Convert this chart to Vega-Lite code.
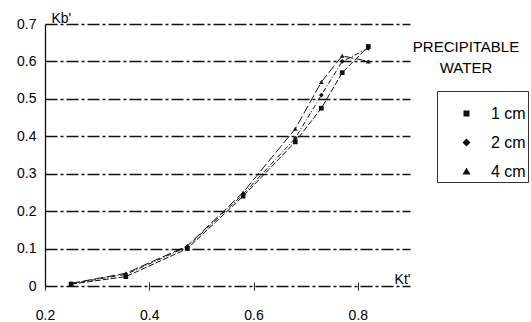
{
  "$schema": "https://vega.github.io/schema/vega-lite/v6.json",
  "width": 365,
  "height": 262,
  "autosize": {"type": "none"},
  "padding": {"left": 45, "top": 24, "right": 121, "bottom": 36},
  "background": "white",
  "config": {"view": {"stroke": null}, "font": "Liberation Sans"},
  "title": {
    "text": ["PRECIPITABLE", "WATER"],
    "anchor": "start",
    "frame": "group",
    "align": "center",
    "baseline": "top",
    "dx": 421,
    "dy": 65,
    "offset": 0,
    "fontSize": 15,
    "fontWeight": "normal",
    "color": "black",
    "lineHeight": 21
  },
  "data": {
    "values": [
      {"pw": "1 cm", "kt": 0.25, "kb": 0.005},
      {"pw": "1 cm", "kt": 0.355, "kb": 0.025},
      {"pw": "1 cm", "kt": 0.473, "kb": 0.1},
      {"pw": "1 cm", "kt": 0.58, "kb": 0.24},
      {"pw": "1 cm", "kt": 0.68, "kb": 0.385},
      {"pw": "1 cm", "kt": 0.73, "kb": 0.475},
      {"pw": "1 cm", "kt": 0.77, "kb": 0.57},
      {"pw": "1 cm", "kt": 0.82, "kb": 0.64},
      {"pw": "2 cm", "kt": 0.25, "kb": 0.006},
      {"pw": "2 cm", "kt": 0.355, "kb": 0.031},
      {"pw": "2 cm", "kt": 0.473, "kb": 0.105},
      {"pw": "2 cm", "kt": 0.58, "kb": 0.245},
      {"pw": "2 cm", "kt": 0.68, "kb": 0.395},
      {"pw": "2 cm", "kt": 0.73, "kb": 0.51},
      {"pw": "2 cm", "kt": 0.77, "kb": 0.6},
      {"pw": "2 cm", "kt": 0.82, "kb": 0.635},
      {"pw": "4 cm", "kt": 0.25, "kb": 0.007},
      {"pw": "4 cm", "kt": 0.355, "kb": 0.034},
      {"pw": "4 cm", "kt": 0.473, "kb": 0.107},
      {"pw": "4 cm", "kt": 0.58, "kb": 0.25},
      {"pw": "4 cm", "kt": 0.68, "kb": 0.42},
      {"pw": "4 cm", "kt": 0.73, "kb": 0.545},
      {"pw": "4 cm", "kt": 0.77, "kb": 0.615},
      {"pw": "4 cm", "kt": 0.82, "kb": 0.6}
    ]
  },
  "encoding": {
    "x": {
      "field": "kt",
      "type": "quantitative",
      "scale": {"domain": [0.2, 0.9], "nice": false, "zero": false},
      "axis": {
        "values": [0.2, 0.4, 0.6, 0.8],
        "format": ".1f",
        "grid": false,
        "domain": false,
        "ticks": true,
        "tickColor": "#222",
        "tickSize": 8,
        "offset": -4,
        "labelPadding": 18,
        "labelFontSize": 14,
        "labelColor": "black",
        "labelFlush": false,
        "labelOverlap": false,
        "labelBound": false,
        "title": "Kt'",
        "titleX": 365,
        "titleY": 1,
        "titleAlign": "right",
        "titleBaseline": "alphabetic",
        "titleFontWeight": "normal",
        "titleFontSize": 14,
        "titleColor": "black"
      }
    },
    "y": {
      "field": "kb",
      "type": "quantitative",
      "scale": {"domain": [0, 0.7], "nice": false},
      "axis": {
        "values": [0, 0.1, 0.2, 0.3, 0.4, 0.5, 0.6, 0.7],
        "format": ".1~f",
        "grid": true,
        "gridDash": [12, 3, 3, 3],
        "gridColor": "#111",
        "gridWidth": 1.3,
        "gridOpacity": 1,
        "domain": true,
        "domainColor": "#111",
        "domainWidth": 1.3,
        "ticks": false,
        "labelPadding": 9,
        "labelFontSize": 14,
        "labelColor": "black",
        "title": "Kb'",
        "titleAngle": 0,
        "titleX": 6,
        "titleY": -2,
        "titleAlign": "left",
        "titleBaseline": "alphabetic",
        "titleFontWeight": "normal",
        "titleFontSize": 14,
        "titleColor": "black"
      }
    }
  },
  "resolve": {"scale": {"shape": "independent"}, "legend": {"shape": "independent"}},
  "layer": [
    {
      "transform": [{"filter": "datum.pw === '1 cm'"}],
      "mark": {"type": "line", "color": "#111", "strokeWidth": 1, "strokeDash": [6, 2]},
      "encoding": {}
    },
    {
      "transform": [{"filter": "datum.pw === '2 cm'"}],
      "mark": {"type": "line", "color": "#111", "strokeWidth": 1, "strokeDash": [5, 2, 1, 2]},
      "encoding": {}
    },
    {
      "transform": [{"filter": "datum.pw === '4 cm'"}],
      "mark": {"type": "line", "color": "#111", "strokeWidth": 1, "strokeDash": [9, 3]},
      "encoding": {}
    },
    {
      "mark": {"type": "point", "filled": true, "color": "#111", "size": 22, "opacity": 1},
      "encoding": {
        "shape": {
          "field": "pw",
          "type": "nominal",
          "scale": {"domain": ["1 cm", "2 cm", "4 cm"], "range": ["square", "diamond", "triangle-up"]},
          "legend": null
        }
      }
    },
    {
      "mark": {"type": "point", "filled": true, "color": "#111", "size": 1, "opacity": 0},
      "encoding": {
        "shape": {
          "field": "pw",
          "type": "nominal",
          "scale": {
            "domain": ["1 cm", "2 cm", "4 cm"],
            "range": [
              "M-0.65,0H1.45M0.2,-0.15H0.5V0.15H0.2Z",
              "M-0.65,0H1.45M0.35,-0.2L0.55,0L0.35,0.2L0.15,0Z",
              "M-0.65,0H1.45M0.35,-0.2L0.55,0.15L0.15,0.15Z"
            ]
          },
          "legend": {
            "orient": "none",
            "legendX": 392,
            "legendY": 67,
            "title": null,
            "strokeColor": "#333",
            "padding": 2,
            "symbolSize": 1600,
            "symbolOpacity": 1,
            "symbolFillColor": "#111",
            "symbolStrokeColor": "#111",
            "symbolStrokeWidth": 1,
            "rowPadding": 0,
            "labelFontSize": 16,
            "labelOffset": 11,
            "labelColor": "black"
          }
        }
      }
    }
  ]
}
